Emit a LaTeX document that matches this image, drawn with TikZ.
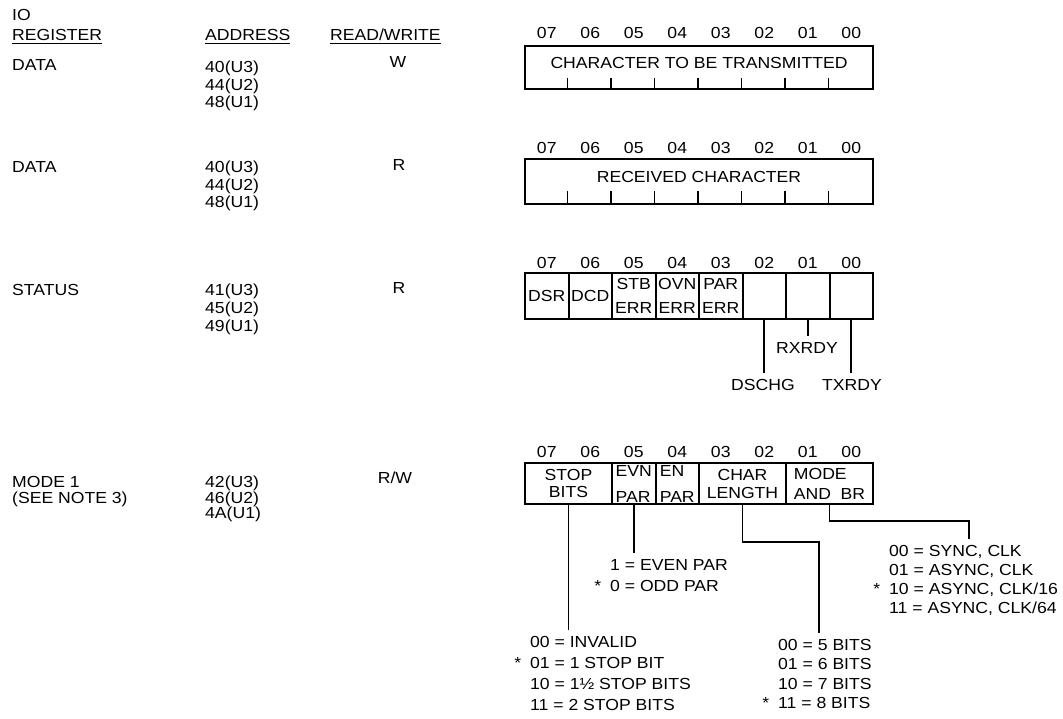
\documentclass[tikz,border=0pt]{standalone}
\usepackage{fontspec}
\setmainfont{Liberation Sans}[FakeStretch=1.1]
\usetikzlibrary{positioning}

\begin{document}
\begin{tikzpicture}[x=1pt, y=-1pt,
  every node/.style={inner sep=0pt, font=\fontsize{16}{17.5}\selectfont},
  txt/.style={anchor=west, text height=11.5pt, text depth=0pt},
  ctxt/.style={text height=11.5pt, text depth=0pt},
  hdr/.style={anchor=base west},
  lst/.style={anchor=north west, align=left},
  uline/.style={line width=1.4pt},
  regbox/.style={draw, line width=2pt, minimum width=348pt,
                 text height=11.5pt, text depth=9pt},
  cell/.style={draw, line width=2pt, minimum width=43.5pt, align=center},
  tick/.style={line width=1.8pt},
  lead/.style={line width=1.7pt, shorten >=6pt}
]
\useasboundingbox (0,0) rectangle (1063,719);

% Column headings
\node[hdr] (hio)  at (12,20.5)  {IO};
\node[hdr] (hreg) at (12,40.5)  {REGISTER};
\node[hdr] (hadr) at (205,40.5) {ADDRESS};
\node[hdr] (hrw)  at (330,40.5) {READ/WRITE};
\draw[uline] ([yshift=-3pt]hreg.base west) -- ([yshift=-3pt]hreg.base east);
\draw[uline] ([yshift=-3pt]hadr.base west) -- ([yshift=-3pt]hadr.base east);
\draw[uline] ([yshift=-3pt]hrw.base west)  -- ([yshift=-3pt]hrw.base east);

% Register rows
\node[txt] (rdata1) at (12,65)    {DATA};
\node[lst] (adata1) at (205,61.2) {40(U3)\\44(U2)\\48(U1)};
\node[ctxt] (wdata1) at (398,62)  {W};

\node[txt] (rdata2) at (12,167)    {DATA};
\node[lst] (adata2) at (205,161.2) {40(U3)\\44(U2)\\48(U1)};
\node[ctxt] (wdata2) at (399,165)  {R};

\node[txt] (rstat) at (12,290) {STATUS};
\node[lst, font=\fontsize{16}{18}\selectfont] (astat) at (205,284.2) {41(U3)\\45(U2)\\49(U1)};
\node[ctxt] (wstat) at (399,288) {R};

\node[lst, font=\fontsize{16}{15.5}\selectfont] (rmode) at (12,476.2) {MODE 1\\(SEE NOTE 3)};
\node[lst, font=\fontsize{16}{15.5}\selectfont] (amode) at (205,476.2) {42(U3)\\46(U2)\\4A(U1)};
\node[ctxt] (wmode) at (395,478) {R/W};

% Bit numbers
\foreach \b [count=\i from 0] in {07,06,05,04,03,02,01,00} {
  \node[ctxt] (na\i) at (546.75+43.5*\i,33)  {\b};
  \node[ctxt] (nb\i) at (546.75+43.5*\i,148) {\b};
  \node[ctxt] (nc\i) at (546.75+43.5*\i,263) {\b};
  \node[ctxt] (nd\i) at (546.75+43.5*\i,452) {\b};
}

% Data registers
\node[regbox, minimum height=43pt] (txreg) at (699,67.5)  {CHARACTER TO BE TRANSMITTED};
\node[regbox, minimum height=45pt] (rxreg) at (699,181.5) {RECEIVED CHARACTER};
\foreach \i in {1,...,7} {
  \draw[tick] ([xshift=\i*43.5pt]txreg.south west) -- ++(0,-12);
  \draw[tick] ([xshift=\i*43.5pt]rxreg.south west) -- ++(0,-14);
}

% Status register
\tikzset{scell/.style={cell, minimum height=46pt, font=\fontsize{16}{24}\selectfont}}
\node[scell] (dsr) at (546.75,296) {DSR};
\node[scell] (dcd) at (590.25,296) {DCD};
\node[scell] (stb) at (633.75,296) {STB\\ERR};
\node[scell] (ovn) at (677.25,296) {OVN\\ERR};
\node[scell] (par) at (720.75,296) {PAR\\ERR};
\node[scell] (dsc) at (764.25,296) {};
\node[scell] (rxr) at (807.75,296) {};
\node[scell] (txr) at (851.25,296) {};

\node[ctxt] (lbdschg) at (763,385) {DSCHG};
\node[ctxt] (lbrxrdy) at (807,348) {RXRDY};
\node[ctxt] (lbtxrdy) at (852,385) {TXRDY};
\draw[lead] (dsc.south) -- (dsc.south |- lbdschg.north);
\draw[lead] (rxr.south) -- (rxr.south |- lbrxrdy.north);
\draw[lead] (txr.south) -- (txr.south |- lbtxrdy.north);

% Mode 1 register
\tikzset{mcell/.style={cell, minimum height=41pt}}
\node[mcell, minimum width=87pt, font=\fontsize{16}{17}\selectfont] (stop) at (568.5,483.5) {STOP\\BITS};
\node[mcell, align=left, font=\fontsize{16}{26}\selectfont] (evn) at (633.75,483.5) {EVN\\PAR};
\node[mcell, align=left, font=\fontsize{16}{26}\selectfont] (enp) at (677.25,483.5) {EN\\PAR};
\node[mcell, minimum width=87pt, font=\fontsize{16}{18}\selectfont] (chl) at (742.5,483.5) {CHAR\\LENGTH};
\node[mcell, minimum width=87pt, align=left, font=\fontsize{16}{20}\selectfont] (mbr) at (829.5,483.5) {MODE\\AND\hspace{0.6em}BR};

% Field values
\node[lst, font=\fontsize{16}{21}\selectfont] (parlist) at (610,559.2)
  {1 = EVEN PAR\\\llap{*\hspace{9pt}}0 = ODD PAR};
\node[lst, font=\fontsize{16}{21}\selectfont] (stoplist) at (530,636.2)
  {00 = INVALID\\\llap{*\hspace{9pt}}01 = 1 STOP BIT\\10 = 1½ STOP BITS\\11 = 2 STOP BITS};
\node[lst, font=\fontsize{16}{19.3}\selectfont] (bitlist) at (778,639.2)
  {00 = 5 BITS\\01 = 6 BITS\\10 = 7 BITS\\\llap{*\hspace{9pt}}11 = 8 BITS};
\node[lst, font=\fontsize{16}{19}\selectfont] (modelist) at (889,545.2)
  {00 = SYNC, CLK\\01 = ASYNC, CLK\\\llap{*\hspace{9pt}}10 = ASYNC, CLK/16\\11 = ASYNC, CLK/64};

\coordinate (chbend) at (819,542);
\coordinate (mdbend) at (969,521);
\draw[lead] (stop.south) -- (stop.south |- stoplist.north);
\draw[lead] (evn.south) -- (evn.south |- parlist.north);
\draw[lead] (chl.south) |- (chbend) -- (chbend |- bitlist.north);
\draw[lead] (mbr.south) |- (mdbend) -- (mdbend |- modelist.north);

\end{tikzpicture}
\end{document}
